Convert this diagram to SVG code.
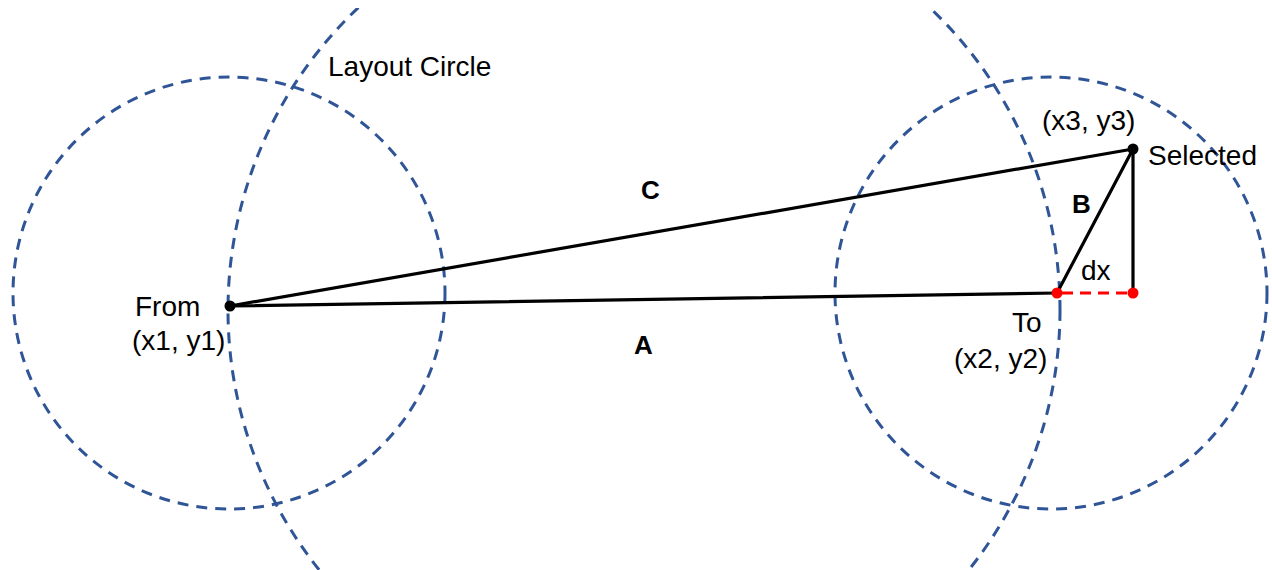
<svg xmlns="http://www.w3.org/2000/svg" width="1272" height="570" viewBox="0 0 1272 570">
<style>
.circ{fill:none;stroke:#2F5597;stroke-width:3;stroke-dasharray:11 8}
.edge{stroke:#000;stroke-width:3.2;fill:none;stroke-linecap:round}
.red{stroke:#FF0000;stroke-width:3;stroke-dasharray:11 7;fill:none}
.t{font-family:"Liberation Sans",Arial,sans-serif;font-size:28px;fill:#000}
.b{font-family:"Liberation Sans",Arial,sans-serif;font-size:26px;font-weight:bold;fill:#000}
</style>
<defs>
<clipPath id="clipTop"><rect x="0" y="8" width="1272" height="562"/></clipPath>
</defs>
<rect width="1272" height="570" fill="#fff"/>
<g id="circles" clip-path="url(#clipTop)">
<circle id="from-circle" class="circ" cx="229" cy="293" r="216"/>
<circle id="to-circle" class="circ" cx="1051" cy="293" r="216"/>
<circle id="layout-circle" class="circ" cx="644" cy="310" r="416"/>
</g>
<g id="connectors">
<line id="A" class="edge" x1="230" y1="306" x2="1057" y2="293"/>
<line id="C" class="edge" x1="230" y1="306" x2="1133" y2="149"/>
<line id="B" class="edge" x1="1057" y1="293" x2="1133" y2="149"/>
<line id="vert" class="edge" x1="1133" y1="149" x2="1133" y2="293"/>
<line id="dx-line" class="red" x1="1062" y1="293" x2="1130" y2="293"/>
</g>
<g id="from"><circle cx="230" cy="306" r="5.5" fill="#000"/><text class="t" x="135" y="316">From</text><text class="t" x="132" y="350">(x1, y1)</text></g>
<g id="to"><circle cx="1057" cy="293" r="5.5" fill="#FF0000"/><text class="t" x="1012" y="332">To</text><text class="t" x="954" y="368">(x2, y2)</text></g>
<g id="selected"><circle cx="1133" cy="149" r="5.5" fill="#000"/><text class="t" x="1148" y="165">Selected</text><text class="t" x="1042" y="130">(x3, y3)</text></g>
<g id="dx-end"><circle cx="1133" cy="293" r="5.5" fill="#FF0000"/></g>
<g id="labels">
<text class="t" x="328" y="76">Layout Circle</text>
<text class="b" x="641" y="199">C</text>
<text class="b" x="634" y="354">A</text>
<text class="b" x="1072" y="213">B</text>
<text class="t" x="1081" y="280">dx</text>
</g>
</svg>
